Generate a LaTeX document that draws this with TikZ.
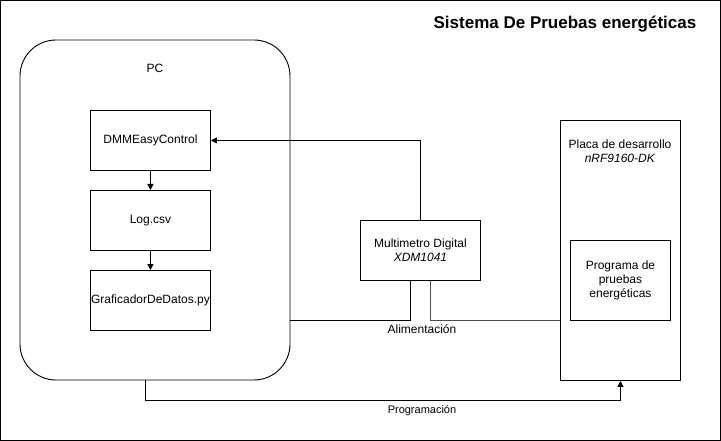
\documentclass[tikz,border=0pt]{standalone}
\usepackage{fontspec}
\setmainfont{Liberation Sans}
\usetikzlibrary{arrows.meta}
\begin{document}
\begin{tikzpicture}[x=1pt,y=-1pt,
  box/.style={draw,line width=0.9pt,minimum width=120pt,minimum height=60pt,inner sep=0pt,align=center,font=\fontsize{12}{14}\selectfont,anchor=north west},
  lbl/.style={font=\fontsize{12}{14}\selectfont,inner sep=0pt,align=center},
  conn/.style={line width=0.9pt},
  arr/.style={conn,-{Triangle[length=6pt,width=6pt]}}]
\useasboundingbox (0,0) rectangle (721,441);
\draw[line width=0.9pt] (0.5,0.5) rectangle (720.5,440.5);
\node[font=\fontsize{17}{19}\selectfont\bfseries,inner sep=0pt] (title) at (565,24) {Sistema De Pruebas energéticas};
% PC
\draw[line width=0.9pt,rounded corners=36pt] (20,40) rectangle (290,380);
\coordinate (pcR) at (290,320);
\coordinate (pcB) at (145,380);
\node[lbl] (pc) at (155,68) {PC};
\node[box] (dmm) at (90,110) {DMMEasyControl};
\node[box] (log) at (90,190) {Log.csv};
\node[box] (graf) at (90,270) {GraficadorDeDatos.py};
\draw[arr] (dmm.south) -- (log.north);
\draw[arr] (log.south) -- (graf.north);
% Multimetro
\node[box] (mm) at (360,220) {Multimetro Digital\\\textit{XDM1041}};
% Placa
\node[draw,line width=0.9pt,minimum width=120pt,minimum height=260pt,inner sep=0pt,anchor=north west] (placa) at (560,120) {};
\node[lbl,anchor=north] (placaT) at (620,140) {Placa de desarrollo\\\textit{nRF9160-DK}};
\node[box,minimum width=100pt,minimum height=80pt] (prog) at (570,240) {Programa de\\pruebas\\energéticas};
% connectors
\draw[arr] (mm.north) |- (dmm.east);
\draw[conn] ([xshift=-10pt]mm.south) |- (pcR);
\draw[conn,draw=black!70] ([xshift=10pt]mm.south) |- (placa.west |- pcR);
\node[lbl] (alim) at (422,329) {Alimentación};
\draw[arr] (pcB) -- (145,400) -| (placa.south);
\node[lbl,font=\fontsize{11}{13}\selectfont] (progl) at (422,411) {Programación};
\end{tikzpicture}
\end{document}
